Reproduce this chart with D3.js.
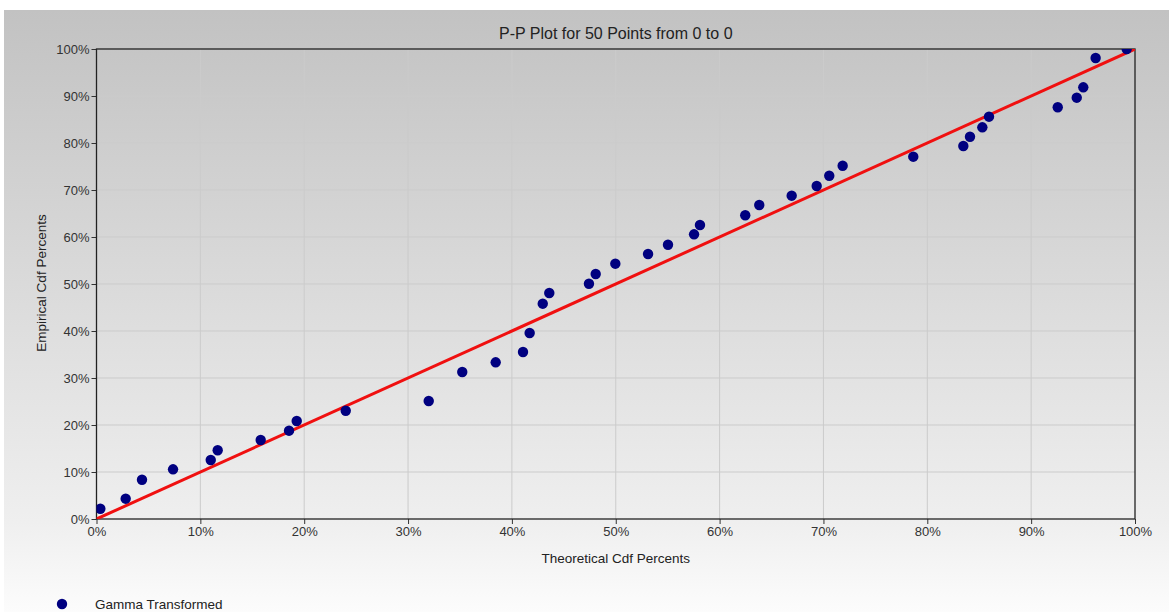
<!DOCTYPE html>
<html><head><meta charset="utf-8">
<script src="https://cdn.jsdelivr.net/npm/d3@7"></script>
<style>html,body{margin:0;padding:0;background:#fff;}svg{display:block;font-family:"Liberation Sans",Arial,sans-serif;}</style>
</head><body>
<svg id="c" width="1169" height="612"></svg>
<script>
const title = "P-P Plot for 50 Points from 0 to 0";
const xTitle = "Theoretical Cdf Percents";
const yTitle = "Empirical Cdf Percents";
const seriesName = "Gamma Transformed";
const tickValues = [0,10,20,30,40,50,60,70,80,90,100];
const theoretical = [0.37,2.81,4.38,7.37,11.0,11.67,15.81,18.54,19.28,24.0,31.99,35.22,38.44,41.07,41.71,42.97,43.6,47.42,48.07,49.96,53.11,55.03,57.54,58.11,62.47,63.82,66.94,69.35,70.56,71.85,78.65,83.47,84.11,85.3,85.94,92.56,94.39,95.02,96.21,99.2];
const empirical = [2.19,4.32,8.36,10.57,12.55,14.62,16.81,18.79,20.85,23.04,25.11,31.28,33.34,35.53,39.57,45.81,48.09,50.06,52.13,54.32,56.38,58.36,60.57,62.55,64.62,66.81,68.79,70.85,73.04,75.17,77.09,79.36,81.34,83.34,85.6,87.6,89.64,91.85,98.09,100];
const refLine = [[0,0],[100,100]];

const svg = d3.select("#c");
const W = 1169, H = 612;
const m = {l:96.5, r:1135, t:49, b:519};

const defs = svg.append("defs");
const g = defs.append("linearGradient").attr("id","bg").attr("x1",0).attr("y1",0).attr("x2",0).attr("y2",1);
g.append("stop").attr("offset","0%").attr("stop-color","#c2c2c2");
g.append("stop").attr("offset","85%").attr("stop-color","#efefef");
g.append("stop").attr("offset","100%").attr("stop-color","#fcfcfc");
defs.append("clipPath").attr("id","clip").append("rect")
  .attr("x",m.l).attr("y",m.t).attr("width",m.r-m.l).attr("height",m.b-m.t);

svg.append("rect").attr("x",4).attr("y",10).attr("width",W-4).attr("height",H-10).attr("fill","url(#bg)");

const x = d3.scaleLinear().domain([0,100]).range([m.l,m.r]);
const y = d3.scaleLinear().domain([0,100]).range([m.b,m.t]);

// grid
svg.append("g").selectAll("line").data(tickValues.slice(1,-1)).join("line")
  .attr("x1",d=>x(d)).attr("x2",d=>x(d)).attr("y1",m.t).attr("y2",m.b)
  .attr("stroke","#cbcbcb").attr("stroke-width",1);
svg.append("g").selectAll("line").data(tickValues.slice(1,-1)).join("line")
  .attr("y1",d=>y(d)).attr("y2",d=>y(d)).attr("x1",m.l).attr("x2",m.r)
  .attr("stroke","#cbcbcb").attr("stroke-width",1);

// axes
const fmt = d=>d+"%";
const xa = svg.append("g").attr("transform",`translate(0,${m.b})`)
  .call(d3.axisBottom(x).tickValues(tickValues).tickFormat(fmt).tickSize(5).tickPadding(3));
const ya = svg.append("g").attr("transform",`translate(${m.l},0)`)
  .call(d3.axisLeft(y).tickValues(tickValues).tickFormat(fmt).tickSize(5).tickPadding(2));
[xa,ya].forEach(a=>{
  a.select(".domain").remove();
  a.selectAll("line").attr("stroke","#333");
  a.selectAll("text").attr("fill","#333").style("font-size","13px").style("font-family","Liberation Sans, Arial, sans-serif");
});

// frame
svg.append("rect").attr("x",m.l).attr("y",m.t).attr("width",m.r-m.l).attr("height",m.b-m.t)
  .attr("fill","none").attr("stroke","#222").attr("stroke-width",1.3);

// ref line
const plot = svg.append("g").attr("clip-path","url(#clip)");
plot.append("path").datum(refLine)
  .attr("d",d3.line().x(d=>x(d[0])).y(d=>y(d[1])))
  .attr("stroke","#f01010").attr("stroke-width",3).attr("fill","none");

// points
plot.selectAll("circle").data(theoretical.map((t,i)=>[t,empirical[i]])).join("circle")
  .attr("cx",d=>x(d[0])).attr("cy",d=>y(d[1])).attr("r",5.2).attr("fill","#000080");

// titles
svg.append("text").attr("x",(m.l+m.r)/2).attr("y",39).attr("text-anchor","middle")
  .attr("fill","#222").style("font-size","16px").text(title);
svg.append("text").attr("x",(m.l+m.r)/2).attr("y",563).attr("text-anchor","middle")
  .attr("fill","#222").style("font-size","13.5px").text(xTitle);
svg.append("text").attr("transform",`translate(46,${(m.t+m.b)/2-1}) rotate(-90)`).attr("text-anchor","middle")
  .attr("fill","#222").style("font-size","13.5px").text(yTitle);

// legend
svg.append("circle").attr("cx",62).attr("cy",604).attr("r",5.2).attr("fill","#000080");
svg.append("text").attr("x",95).attr("y",609).attr("fill","#222").style("font-size","13.5px").text(seriesName);
</script>
</body></html>
